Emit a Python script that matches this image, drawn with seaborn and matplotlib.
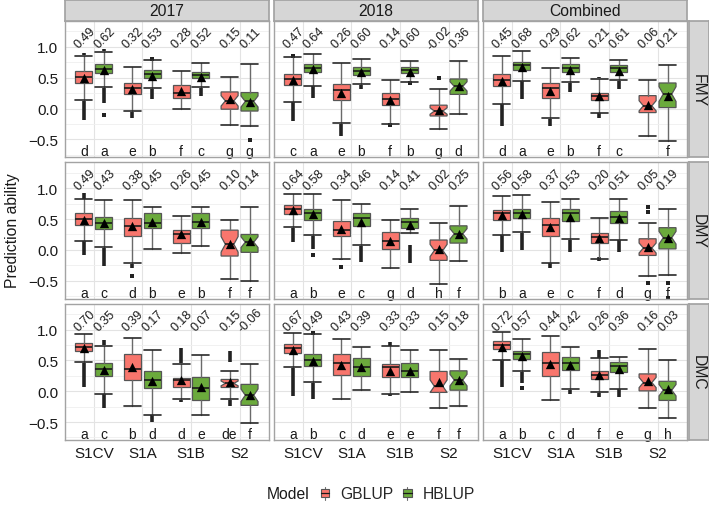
import numpy as np
import pandas as pd
import matplotlib
matplotlib.use("Agg")
import matplotlib.pyplot as plt
import seaborn as sns
from matplotlib.patches import Rectangle, Patch
from matplotlib.lines import Line2D
from matplotlib.legend_handler import HandlerBase

# ---------------- data ----------------
traits = ["FMY", "DMY", "DMC"]
years = ["2017", "2018", "Combined"]
scenarios = ["S1CV", "S1A", "S1B", "S2"]
models = ["GBLUP", "HBLUP"]

# order inside each panel: S1CV-G, S1CV-H, S1A-G, S1A-H, S1B-G, S1B-H, S2-G, S2-H
# panels ordered: FMY(2017, 2018, Combined), DMY(...), DMC(...)
mean_vals = [
    0.49, 0.62, 0.32, 0.53, 0.28, 0.52, 0.15, 0.11,
    0.47, 0.64, 0.26, 0.60, 0.14, 0.60, -0.02, 0.36,
    0.45, 0.68, 0.29, 0.62, 0.21, 0.61, 0.06, 0.21,
    0.49, 0.43, 0.38, 0.45, 0.26, 0.45, 0.10, 0.14,
    0.64, 0.58, 0.34, 0.46, 0.14, 0.41, 0.02, 0.25,
    0.56, 0.58, 0.37, 0.53, 0.20, 0.51, 0.05, 0.19,
    0.70, 0.35, 0.39, 0.17, 0.18, 0.07, 0.15, -0.06,
    0.67, 0.49, 0.43, 0.39, 0.33, 0.33, 0.15, 0.18,
    0.72, 0.57, 0.44, 0.42, 0.26, 0.36, 0.16, 0.03,
]
median_vals = [
    0.51, 0.645, 0.33, 0.56, 0.245, 0.55, 0.125, 0.115,
    0.48, 0.66, 0.30, 0.61, 0.15, 0.62, -0.04, 0.36,
    0.47, 0.70, 0.33, 0.66, 0.21, 0.66, 0.045, 0.235,
    0.50, 0.44, 0.38, 0.44, 0.26, 0.45, 0.09, 0.125,
    0.655, 0.59, 0.32, 0.51, 0.14, 0.45, -0.01, 0.26,
    0.59, 0.59, 0.40, 0.59, 0.21, 0.535, 0.03, 0.197,
    0.715, 0.355, 0.36, 0.18, 0.18, 0.055, 0.126, -0.066,
    0.70, 0.51, 0.45, 0.40, 0.39, 0.33, 0.08, 0.18,
    0.75, 0.60, 0.46, 0.45, 0.26, 0.415, 0.14, 0.016,
]
q1_vals = [
    0.41, 0.58, 0.235, 0.50, 0.165, 0.50, -0.01, -0.04,
    0.39, 0.60, 0.137, 0.55, 0.055, 0.57, -0.12, 0.23,
    0.36, 0.63, 0.175, 0.60, 0.14, 0.60, -0.065, 0.016,
    0.40, 0.34, 0.22, 0.355, 0.115, 0.35, -0.10, -0.04,
    0.58, 0.49, 0.22, 0.38, 0.016, 0.36, -0.17, 0.11,
    0.49, 0.52, 0.22, 0.47, 0.115, 0.44, -0.09, 0.016,
    0.655, 0.25, 0.18, 0.044, 0.07, -0.137, 0.06, -0.23,
    0.62, 0.415, 0.26, 0.25, 0.235, 0.235, -0.02, 0.016,
    0.68, 0.52, 0.25, 0.34, 0.19, 0.31, 0.005, -0.15,
]
q3_vals = [
    0.61, 0.72, 0.415, 0.62, 0.38, 0.59, 0.27, 0.26,
    0.56, 0.72, 0.40, 0.67, 0.245, 0.67, 0.055, 0.48,
    0.56, 0.75, 0.42, 0.72, 0.26, 0.71, 0.21, 0.415,
    0.59, 0.535, 0.51, 0.59, 0.33, 0.59, 0.32, 0.25,
    0.73, 0.67, 0.47, 0.60, 0.29, 0.52, 0.16, 0.39,
    0.645, 0.655, 0.51, 0.655, 0.28, 0.63, 0.18, 0.36,
    0.78, 0.45, 0.60, 0.33, 0.22, 0.224, 0.19, 0.11,
    0.765, 0.61, 0.61, 0.535, 0.44, 0.45, 0.32, 0.33,
    0.81, 0.655, 0.63, 0.55, 0.33, 0.47, 0.28, 0.16,
]
whislo_vals = [
    0.14, 0.355, -0.04, 0.33, -0.01, 0.355, -0.26, -0.28,
    0.11, 0.37, -0.24, 0.40, -0.25, 0.43, -0.33, -0.08,
    0.08, 0.45, -0.16, 0.43, -0.065, 0.46, -0.45, -0.53,
    0.15, 0.04, -0.22, 0.01, -0.045, 0.055, -0.475, -0.50,
    0.37, 0.235, -0.14, 0.08, -0.295, 0.27, -0.56, -0.175,
    0.245, 0.29, -0.21, 0.17, -0.15, 0.165, -0.43, -0.40,
    0.47, -0.04, -0.245, -0.38, -0.13, -0.39, -0.13, -0.52,
    0.39, 0.15, -0.13, 0.016, -0.04, -0.02, -0.27, -0.24,
    0.51, 0.32, -0.137, 0.03, -0.02, 0.04, -0.27, -0.44,
]
whishi_vals = [
    0.86, 0.91, 0.67, 0.79, 0.61, 0.74, 0.52, 0.72,
    0.84, 0.885, 0.74, 0.80, 0.47, 0.77, 0.31, 0.77,
    0.85, 0.93, 0.65, 0.82, 0.48, 0.79, 0.46, 0.71,
    0.82, 0.81, 0.81, 0.70, 0.55, 0.70, 0.48, 0.69,
    0.91, 0.91, 0.81, 0.75, 0.49, 0.67, 0.44, 0.71,
    0.87, 0.89, 0.78, 0.825, 0.51, 0.825, 0.44, 0.655,
    0.93, 0.74, 0.86, 0.66, 0.44, 0.58, 0.33, 0.44,
    0.945, 0.93, 0.84, 0.72, 0.73, 0.67, 0.66, 0.52,
    0.955, 0.85, 0.89, 0.71, 0.535, 0.55, 0.69, 0.51,
]
letters = [
    "d", "a", "e", "b", "f", "c", "g", "g",
    "c", "a", "e", "b", "f", "b", "g", "d",
    "d", "a", "e", "b", "f", "c", "", "f",
    "a", "c", "d", "b", "e", "b", "f", "f",
    "a", "b", "e", "c", "g", "d", "h", "f",
    "b", "a", "e", "c", "f", "d", "g", "f",
    "a", "c", "b", "d", "d", "e", "de", "f",
    "a", "b", "c", "d", "e", "e", "f", "f",
    "a", "b", "c", "d", "f", "e", "g", "h",
]

# outliers: (year, scenario, model, low, high); low == high -> single point
fmy_outliers = [
    ("2017", "S1CV", "GBLUP", -0.19, 0.13), ("2017", "S1CV", "GBLUP", 0.87, 0.90),
    ("2017", "S1CV", "HBLUP", 0.09, 0.34), ("2017", "S1CV", "HBLUP", 0.93, 0.96),
    ("2017", "S1CV", "HBLUP", -0.10, -0.10), ("2017", "S1A", "GBLUP", -0.16, -0.05),
    ("2017", "S1A", "HBLUP", 0.15, 0.32), ("2017", "S1A", "HBLUP", 0.81, 0.81),
    ("2017", "S1B", "HBLUP", 0.21, 0.34), ("2017", "S2", "HBLUP", -0.51, -0.51),
    ("2018", "S1CV", "GBLUP", -0.20, 0.10), ("2018", "S1CV", "GBLUP", 0.86, 0.86),
    ("2018", "S1CV", "HBLUP", 0.165, 0.36), ("2018", "S1A", "GBLUP", -0.45, -0.25),
    ("2018", "S1A", "HBLUP", 0.32, 0.39), ("2018", "S1B", "GBLUP", -0.27, -0.27),
    ("2018", "S1B", "HBLUP", 0.41, 0.41), ("2018", "S2", "GBLUP", 0.50, 0.50),
    ("Combined", "S1CV", "GBLUP", -0.28, 0.07), ("Combined", "S1CV", "HBLUP", 0.16, 0.44),
    ("Combined", "S1A", "GBLUP", -0.28, -0.17), ("Combined", "S1A", "HBLUP", 0.27, 0.42),
    ("Combined", "S1B", "GBLUP", 0.49, 0.51), ("Combined", "S1B", "GBLUP", -0.15, -0.07),
    ("Combined", "S1B", "HBLUP", 0.32, 0.45),
]
dmy_outliers = [
    ("2017", "S1CV", "GBLUP", 0.83, 0.92), ("2017", "S1CV", "GBLUP", -0.08, 0.14),
    ("2017", "S1CV", "HBLUP", -0.26, 0.03), ("2017", "S1A", "GBLUP", -0.30, -0.23),
    ("2017", "S1A", "GBLUP", -0.42, -0.42),
    ("2018", "S1CV", "GBLUP", 0.125, 0.36), ("2018", "S1CV", "HBLUP", 0.02, 0.22),
    ("2018", "S1CV", "HBLUP", -0.08, -0.08), ("2018", "S1A", "GBLUP", -0.27, -0.27),
    ("2018", "S1A", "GBLUP", -0.16, -0.15), ("2018", "S1A", "HBLUP", -0.19, 0.07),
    ("2018", "S1B", "HBLUP", -0.22, 0.08),
    ("Combined", "S1CV", "GBLUP", -0.04, 0.24), ("Combined", "S1CV", "HBLUP", 0.0, 0.28),
    ("Combined", "S1A", "GBLUP", -0.30, -0.22), ("Combined", "S1A", "HBLUP", -0.04, 0.16),
    ("Combined", "S1B", "GBLUP", -0.18, -0.12), ("Combined", "S1B", "HBLUP", -0.04, 0.155),
    ("Combined", "S2", "GBLUP", 0.62, 0.62), ("Combined", "S2", "GBLUP", 0.70, 0.70),
    ("Combined", "S2", "GBLUP", -0.53, -0.53), ("Combined", "S2", "HBLUP", -0.53, -0.53),
    ("Combined", "S2", "HBLUP", -0.78, -0.78),
]
dmc_outliers = [
    ("2017", "S1CV", "GBLUP", 0.07, 0.46), ("2017", "S1CV", "HBLUP", 0.75, 0.825),
    ("2017", "S1CV", "HBLUP", -0.27, -0.05), ("2017", "S1A", "HBLUP", -0.50, -0.39),
    ("2017", "S1B", "GBLUP", 0.45, 0.70), ("2017", "S1B", "GBLUP", -0.175, -0.14),
    ("2017", "S2", "GBLUP", 0.48, 0.645), ("2017", "S2", "GBLUP", -0.245, -0.14),
    ("2018", "S1CV", "GBLUP", -0.077, 0.38), ("2018", "S1CV", "HBLUP", 0.94, 0.94),
    ("2018", "S1CV", "HBLUP", -0.12, 0.14), ("2018", "S1B", "GBLUP", 0.74, 0.79),
    ("2018", "S1B", "GBLUP", -0.08, -0.05),
    ("Combined", "S1CV", "GBLUP", 0.06, 0.50), ("Combined", "S1CV", "HBLUP", 0.125, 0.31),
    ("Combined", "S1CV", "HBLUP", 0.044, 0.044), ("Combined", "S1A", "HBLUP", -0.04, 0.02),
    ("Combined", "S1B", "GBLUP", 0.545, 0.67), ("Combined", "S1B", "GBLUP", -0.09, -0.03),
    ("Combined", "S1B", "HBLUP", -0.09, 0.03),
]
outliers_by_trait = {"FMY": fmy_outliers, "DMY": dmy_outliers, "DMC": dmc_outliers}

NOTCH_FRAC = 0.3  # notch half-width relative to IQR for S2 boxes (small n)

# ---------------- tidy table ----------------
rows = []
i = 0
for t in traits:
    for y in years:
        for s in scenarios:
            for m in models:
                rows.append(dict(Trait=t, Year=y, Scenario=s, Model=m,
                                 mean=mean_vals[i], med=median_vals[i], q1=q1_vals[i],
                                 q3=q3_vals[i], whislo=whislo_vals[i], whishi=whishi_vals[i],
                                 letter=letters[i]))
                i += 1
df = pd.DataFrame(rows)
DODGE = 0.205
BOXW = 0.35
df["xpos"] = df["Scenario"].map({s: k for k, s in enumerate(scenarios)}) + \
    df["Model"].map({"GBLUP": -DODGE, "HBLUP": DODGE})

# ---------------- style ----------------
sns.set_theme(style="whitegrid")
plt.rcParams["font.family"] = ["Liberation Sans", "DejaVu Sans"]
palette = {"GBLUP": "#F8766D", "HBLUP": "#6BAA3C"}
EDGE = "#555555"
PANEL_EDGE = "#A3A3A3"
STRIP_FILL = "#D6D6D6"
OUT_COL = "#222222"

W, H = 709, 506
fig = plt.figure(figsize=(W / 100, H / 100), dpi=100)
col_x0 = [64.7, 273.7, 482.7]
pw = 204.0
row_y0 = [22.0, 163.3, 304.6]
ph = 136.3


def fx(px):
    return px / W


def fy(py):
    return 1 - py / H


for r, trait in enumerate(traits):
    for c, year in enumerate(years):
        ax = fig.add_axes([fx(col_x0[c]), fy(row_y0[r] + ph), pw / W, ph / H])
        sub = df[(df.Trait == trait) & (df.Year == year)]
        ax.set_facecolor("white")
        ax.set_xlim(-0.6, 3.6)
        ax.set_ylim(-0.79, 1.42)
        ax.set_xticks(range(4))
        ax.set_yticks([-0.5, 0.0, 0.5, 1.0])
        ax.set_yticks([-0.75, -0.25, 0.25, 0.75, 1.25], minor=True)
        ax.grid(which="major", color="#E3E3E3", lw=0.8)
        ax.grid(which="minor", axis="y", color="#EFEFEF", lw=0.6)
        ax.set_axisbelow(True)
        for sp in ax.spines.values():
            sp.set_color(PANEL_EDGE)
            sp.set_linewidth(1.0)
            sp.set_zorder(10)

        # outliers (dense runs as thick segments, single points as squares)
        pts_x, pts_y = [], []
        for (yy, s, m, lo, hi) in outliers_by_trait[trait]:
            if yy != year:
                continue
            xp = sub[(sub.Scenario == s) & (sub.Model == m)]["xpos"].iloc[0]
            if hi - lo < 1e-9:
                pts_x.append(xp)
                pts_y.append(lo)
            else:
                ax.vlines(xp, lo, hi, colors=OUT_COL, lw=2.6, zorder=2)
        if pts_x:
            sns.scatterplot(x=pts_x, y=pts_y, marker="s", color=OUT_COL, s=7,
                            linewidth=0, ax=ax, legend=False, zorder=2)

        # boxes
        for notched in (False, True):
            part = sub[(sub.Scenario == "S2") == notched]
            for model in models:
                pm = part[part.Model == model]
                if pm.empty:
                    continue
                stats = []
                for _, b in pm.iterrows():
                    iqr = b["q3"] - b["q1"]
                    stats.append(dict(med=b["med"], q1=b["q1"], q3=b["q3"],
                                      whislo=b["whislo"], whishi=b["whishi"], fliers=[],
                                      cilo=b["med"] - NOTCH_FRAC * iqr,
                                      cihi=b["med"] + NOTCH_FRAC * iqr))
                ax.bxp(stats, positions=pm["xpos"].values, widths=BOXW,
                       capwidths=BOXW, patch_artist=True, shownotches=notched,
                       showfliers=False, manage_ticks=False,
                       boxprops=dict(facecolor=palette[model], edgecolor=EDGE, lw=0.9),
                       medianprops=dict(color="#1a1a1a", lw=1.2),
                       whiskerprops=dict(color="#6a6a6a", lw=1.0),
                       capprops=dict(color="#2a2a2a", lw=1.2),
                       zorder=3)

        # means
        sns.scatterplot(data=sub, x="xpos", y="mean", marker="^", color="black", s=45,
                        linewidth=0, ax=ax, legend=False, zorder=6)

        # correlation labels (rotated 45 degrees) and letters
        for _, b in sub.iterrows():
            lab = f"{b['mean']:.2f}"
            ax.text(b["xpos"] + 0.02, 1.15, lab, rotation=45.0, rotation_mode="anchor",
                    ha="center", va="center", fontsize=9, color="#1a1a1a", zorder=7)
            ax.text(b["xpos"], -0.695, b["letter"], ha="center", va="center",
                    fontsize=10, color="#1a1a1a", zorder=7)

        ax.set_xlabel("")
        ax.set_ylabel("")
        ax.tick_params(axis="both", which="major", length=2.5, width=0.8,
                       color="#555555", labelsize=11, labelcolor="#1a1a1a", pad=2)
        ax.tick_params(axis="both", which="minor", length=0)
        if r == 2:
            ax.set_xticklabels(scenarios)
        else:
            ax.set_xticklabels([])
            ax.tick_params(axis="x", length=0)
        if c == 0:
            ax.set_yticklabels(["\u22120.5", "0.0", "0.5", "1.0"])
        else:
            ax.set_yticklabels([])
            ax.tick_params(axis="y", length=0)

# top strips
for c, year in enumerate(years):
    sax = fig.add_axes([fx(col_x0[c]), fy(22.0), pw / W, 21.0 / H])
    sax.set_facecolor(STRIP_FILL)
    sax.set_xticks([]); sax.set_yticks([])
    for sp in sax.spines.values():
        sp.set_color(PANEL_EDGE)
    sax.text(0.5, 0.48, year, ha="center", va="center", fontsize=11.3,
             color="#1a1a1a", transform=sax.transAxes)

# right strips
for r, trait in enumerate(traits):
    sax = fig.add_axes([fx(688.5), fy(row_y0[r] + ph), 20.0 / W, ph / H])
    sax.set_facecolor(STRIP_FILL)
    sax.set_xticks([]); sax.set_yticks([])
    for sp in sax.spines.values():
        sp.set_color(PANEL_EDGE)
    sax.text(0.5, 0.5, trait, ha="center", va="center", rotation=270,
             fontsize=11.3, color="#1a1a1a", transform=sax.transAxes)

fig.text(fx(12), fy(231), "Prediction ability", rotation=90, ha="center",
         va="center", fontsize=11.3, color="#1a1a1a")


class BoxKey(HandlerBase):
    def create_artists(self, legend, orig, xd, yd, w, h, fs, trans):
        x0, y0 = -xd, -yd
        rect = Rectangle((x0, y0 + h * 0.2), w, h * 0.6,
                         facecolor=orig.get_facecolor(), edgecolor=EDGE, lw=0.8,
                         transform=trans)
        med = Line2D([x0, x0 + w], [y0 + h * 0.5] * 2, color="#1a1a1a", lw=0.9,
                     transform=trans)
        wt = Line2D([x0 + w / 2] * 2, [y0 + h * 0.8, y0 + h * 1.0], color="#6e6e6e",
                    lw=0.8, transform=trans)
        wb = Line2D([x0 + w / 2] * 2, [y0, y0 + h * 0.2], color="#6e6e6e",
                    lw=0.8, transform=trans)
        return [wt, wb, rect, med]


handles = [Patch(facecolor=palette[m], label=m) for m in models]
fig.text(fx(310), fy(495), "Model", ha="right", va="center", fontsize=11.3,
         color="#1a1a1a")
fig.legend(handles=handles, labels=models, loc="center left",
           bbox_to_anchor=(fx(313), fy(495)), ncol=2, frameon=False,
           fontsize=11.3, handlelength=0.55, handleheight=0.9, handletextpad=0.7,
           columnspacing=0.6, borderpad=0, handler_map={Patch: BoxKey()})

fig.savefig("out.png", dpi=100)
